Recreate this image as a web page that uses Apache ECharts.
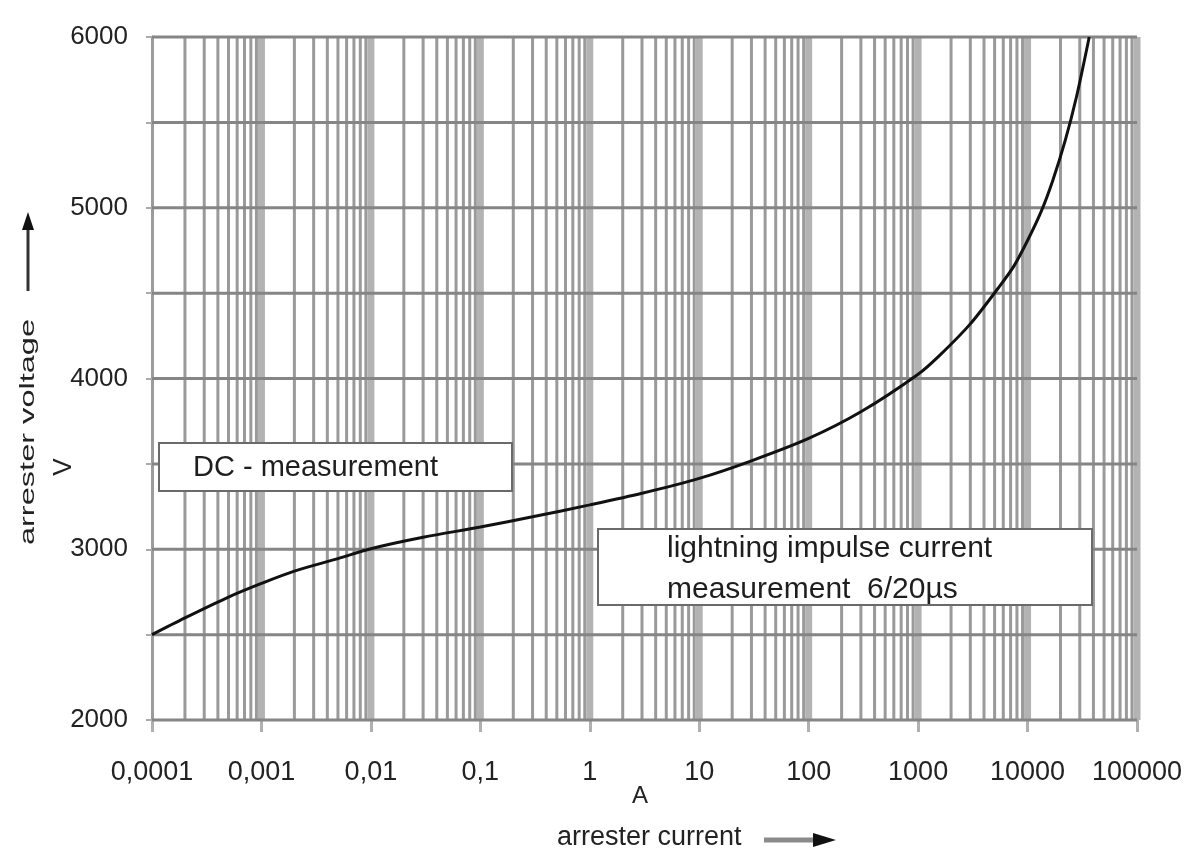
<!DOCTYPE html>
<html>
<head>
<meta charset="utf-8">
<script src="https://cdn.jsdelivr.net/npm/echarts@6/dist/echarts.min.js"></script>
<style>
html,body{margin:0;padding:0;background:#fff;}
#chart{width:1188px;height:854px;}
</style>
</head>
<body>
<div id="chart"></div>
<script>
// arrester current (A) and arrester voltage (V)
const currentA = [0.0001, 0.0002, 0.0005, 0.001, 0.002, 0.005, 0.01, 0.03, 0.1, 0.3, 1, 3, 10, 30, 100, 300, 1000, 1600, 3000, 5400, 7500, 10000, 13300, 17000, 22000, 28000, 36600];
const voltageV = [2500, 2598, 2720, 2800, 2872, 2945, 3003, 3070, 3130, 3190, 3260, 3328, 3415, 3518, 3649, 3805, 4025, 4140, 4320, 4530, 4658, 4808, 4977, 5160, 5390, 5650, 6000];

const xTickLabels = ["0,0001", "0,001", "0,01", "0,1", "1", "10", "100", "1000", "10000", "100000"];
const yTickLabels = ["2000", "3000", "4000", "5000", "6000"];
const yGridValues = [2000, 2500, 3000, 3500, 4000, 4500, 5000, 5500, 6000];
const xMin = 0.0001, xMax = 100000, yMin = 2000, yMax = 6000;

const FONT = "'Liberation Sans', Arial, sans-serif";

// vertical grid lines of the log paper
const decadeLines = [];
const minorLines = [];
for (let e = -4; e <= 4; e++) {
  for (let m = 2; m <= 9; m++) minorLines.push(m * Math.pow(10, e));
  decadeLines.push(Math.pow(10, e + 1));
}
function vertical(vals) {
  const d = [];
  vals.forEach(v => { d.push([v, yMin], [v, yMax], [v, '-']); });
  return d;
}
function horizontal(vals) {
  const d = [];
  vals.forEach(v => { d.push([xMin, v], [xMax, v], ['-', '-']); });
  return d;
}
function gridSeries(name, data, color, width, z) {
  return {
    name: name, type: 'line', z: z, silent: true, clip: false,
    symbol: 'none', showSymbol: false, connectNulls: false,
    lineStyle: {color: color, width: width, cap: 'butt'},
    data: data
  };
}

const chart = echarts.init(document.getElementById('chart'), null, {renderer: 'canvas'});

chart.setOption({
  animation: false,
  backgroundColor: '#ffffff',
  grid: {left: 152, top: 37, width: 985, height: 683, containLabel: false},
  xAxis: {
    type: 'log',
    logBase: 10,
    min: xMin,
    max: xMax,
    axisLine: {show: false},
    axisTick: {show: true, length: 12, lineStyle: {color: '#b0b0b0', width: 3}},
    splitLine: {show: false},
    axisLabel: {
      margin: 39,
      fontFamily: FONT,
      fontSize: 27,
      lineHeight: 27,
      color: '#222',
      formatter: function (v) {
        const i = Math.round(Math.log10(v)) + 4;
        return xTickLabels[i] || '';
      }
    }
  },
  yAxis: {
    type: 'value',
    min: yMin,
    max: yMax,
    interval: 500,
    axisLine: {show: true, lineStyle: {color: '#9c9c9c', width: 3}},
    axisTick: {show: true, length: 6, lineStyle: {color: '#aaa', width: 2}},
    splitLine: {show: false},
    axisLabel: {
      margin: 24,
      fontFamily: FONT,
      fontSize: 26,
      color: '#222',
      formatter: function (v) {
        if (v % 1000 !== 0) return '';
        return yTickLabels[(v - 2000) / 1000] || '';
      }
    }
  },
  series: [
    gridSeries('minor', vertical(minorLines), '#9a9a9a', 3, 1),
    gridSeries('decade', vertical(decadeLines), '#b3b3b3', 7, 1),
    gridSeries('horizontal', horizontal(yGridValues), '#858585', 3, 1),
    {
      name: 'arrester',
      type: 'line',
      z: 5,
      smooth: 0.3,
      showSymbol: false,
      symbol: 'none',
      lineStyle: {color: '#111', width: 3},
      data: currentA.map((x, i) => [x, voltageV[i]])
    }
  ],
  graphic: [
    // DC measurement box
    {type: 'rect', z: 50, shape: {x: 159, y: 443, width: 353, height: 48},
     style: {fill: '#fff', stroke: '#6a6a6a', lineWidth: 2}},
    {type: 'text', z: 51, x: 193, y: 468,
     style: {text: 'DC - measurement', font: '29px ' + FONT, fill: '#1e1e1e', verticalAlign: 'middle'}},
    // lightning impulse box
    {type: 'rect', z: 50, shape: {x: 598, y: 529, width: 494, height: 76},
     style: {fill: '#fff', stroke: '#6a6a6a', lineWidth: 2}},
    {type: 'text', z: 51, x: 667, y: 549,
     style: {text: 'lightning impulse current', font: '30px ' + FONT, fill: '#1e1e1e', verticalAlign: 'middle'}},
    {type: 'text', z: 51, x: 667, y: 590,
     style: {text: 'measurement  6/20\u00b5s', font: '30px ' + FONT, fill: '#1e1e1e', verticalAlign: 'middle'}},
    // y axis title
    {type: 'text', z: 51, x: 28, y: 432, rotation: Math.PI / 2, scaleX: 1.55,
     style: {text: 'arrester voltage', font: '21px ' + FONT, fill: '#222', align: 'center', verticalAlign: 'middle'}},
    {type: 'text', z: 51, x: 64, y: 467, rotation: Math.PI / 2,
     style: {text: 'V', font: '26px ' + FONT, fill: '#222', align: 'center', verticalAlign: 'middle'}},
    {type: 'line', z: 51, shape: {x1: 28, y1: 291, x2: 28, y2: 226},
     style: {stroke: '#333', lineWidth: 3}},
    {type: 'polygon', z: 51, shape: {points: [[28, 212], [22, 230], [34, 230]]},
     style: {fill: '#111'}},
    // x axis title
    {type: 'text', z: 51, x: 640, y: 796,
     style: {text: 'A', font: '24px ' + FONT, fill: '#222', align: 'center', verticalAlign: 'middle'}},
    {type: 'text', z: 51, x: 557, y: 838,
     style: {text: 'arrester current', font: '27px ' + FONT, fill: '#222', verticalAlign: 'middle'}},
    {type: 'line', z: 51, shape: {x1: 764, y1: 840, x2: 816, y2: 840},
     style: {stroke: '#8a8a8a', lineWidth: 5}},
    {type: 'polygon', z: 51, shape: {points: [[836, 840], [813, 833], [813, 847]]},
     style: {fill: '#111'}}
  ]
});
</script>
</body>
</html>
